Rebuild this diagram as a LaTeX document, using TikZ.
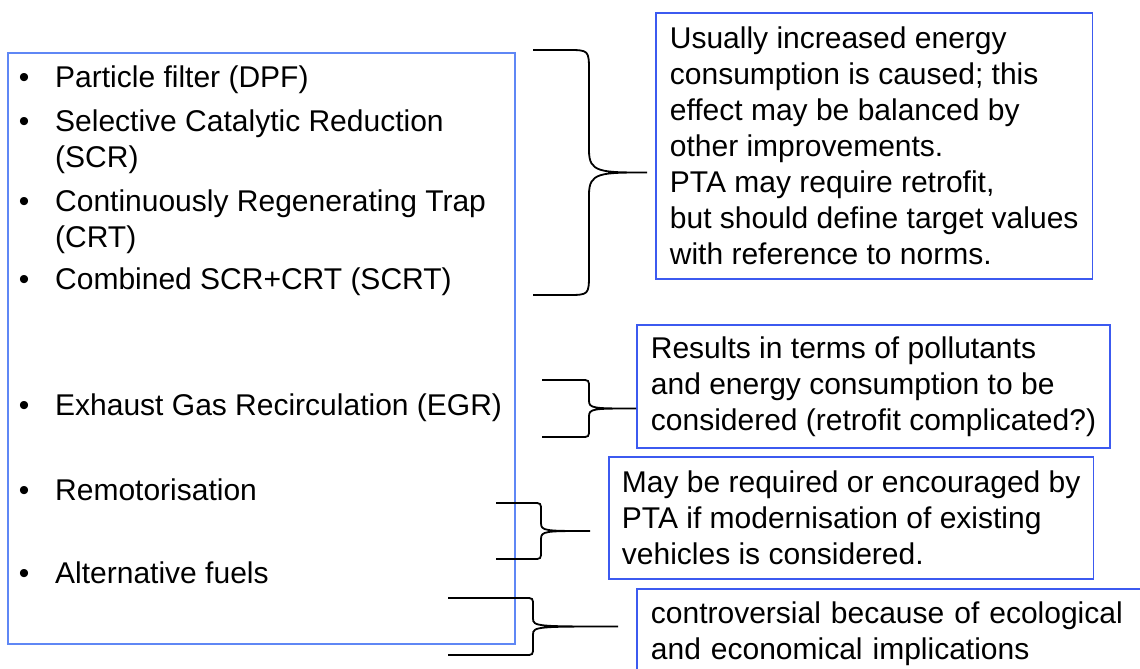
\documentclass[tikz,border=0pt]{standalone}
\usepackage{fontspec}
\setmainfont{Liberation Sans}
\usetikzlibrary{positioning}

\definecolor{listblue}{RGB}{95,135,245}
\definecolor{noteblue}{RGB}{60,90,240}

\newcommand{\slidefont}{\fontsize{30}{36}\selectfont}
% curly brace: end x, top y, bottom y, spine x, tip x, corner size
\newcommand{\notebrace}[6]{%
  \draw[bracestroke] (#1,#2) -- ({#4-#6},#2) .. controls (#4,#2) .. (#4,{#2+#6})
    -- (#4,{(#2+#3)/2-#6}) .. controls (#4,{(#2+#3)/2}) and ({#4+#6/2},{(#2+#3)/2}) .. (#5,{(#2+#3)/2})
    .. controls ({#4+#6/2},{(#2+#3)/2}) and (#4,{(#2+#3)/2}) .. (#4,{(#2+#3)/2+#6})
    -- (#4,{#3-#6}) .. controls (#4,#3) .. ({#4-#6},#3) -- (#1,#3);}

\begin{document}
\begin{tikzpicture}[x=1pt,y=-1pt,
    listbox/.style={draw=listblue,line width=1.8pt,inner sep=0pt,anchor=north west},
    listitem/.style={inner sep=0pt,align=left,anchor=north west,font=\slidefont},
    notebox/.style={draw=noteblue,line width=1.8pt,inner xsep=14pt,inner ysep=0pt,
                    align=left,anchor=north west,font=\slidefont},
    bracestroke/.style={draw=black,line width=1.8pt}]
  \useasboundingbox (0,0) rectangle (1140,669);
  \clip (0,0) rectangle (1140,669);

  % measures on the left
  \node[listbox,minimum width=507pt,minimum height=591pt] (list) at (7,52) {};
  \node[listitem] (dpf)  at (55,66) {\llap{•\hspace{25.75pt}}Particle filter (DPF)};
  \node[listitem] (scr)  [below=15pt of dpf.south west,anchor=north west]
        {\llap{•\hspace{25.75pt}}Selective Catalytic Reduction\\(SCR)};
  \node[listitem] (crt)  [below=16pt of scr.south west,anchor=north west]
        {\llap{•\hspace{25.75pt}}Continuously Regenerating Trap\\(CRT)};
  \node[listitem] (scrt) [below=14pt of crt.south west,anchor=north west]
        {\llap{•\hspace{25.75pt}}Combined SCR+CRT (SCRT)};
  \node[listitem] (egr)  [below=97pt of scrt.south west,anchor=north west]
        {\llap{•\hspace{25.75pt}}Exhaust Gas Recirculation (EGR)};
  \node[listitem] (remot) [below=57pt of egr.south west,anchor=north west]
        {\llap{•\hspace{25.75pt}}Remotorisation};
  \node[listitem] (altfuel) [below=60pt of remot.south west,anchor=north west]
        {\llap{•\hspace{25.75pt}}Alternative fuels};

  % comments on the right
  \node[notebox,minimum height=266pt] (energynote) at (655,12)
        {Usually increased energy\\consumption is caused; this\\effect may be balanced by\\other improvements.\\PTA may require retrofit,\\but should define target values\\with reference to norms.};
  \node[notebox,minimum height=123pt] (pollnote) at (636,324)
        {Results in terms of pollutants\\and energy consumption to be\\considered (retrofit complicated?)};
  \node[notebox,inner xsep=13pt,minimum height=122pt] (ptanote) at (608,456)
        {May be required or encouraged by\\PTA if modernisation of existing\\vehicles is considered.};
  \node[notebox,text width=520pt,minimum height=89pt] (fuelnote) at (636,588)
        {controversial because of ecological\\and economical implications};

  \notebrace{533}{50}{295}{589}{647}{22}
  \notebrace{542}{380}{437}{589}{636}{8}
  \notebrace{496}{503}{559}{541}{590}{8}
  \notebrace{448}{598}{655}{533}{618}{8}
\end{tikzpicture}
\end{document}
